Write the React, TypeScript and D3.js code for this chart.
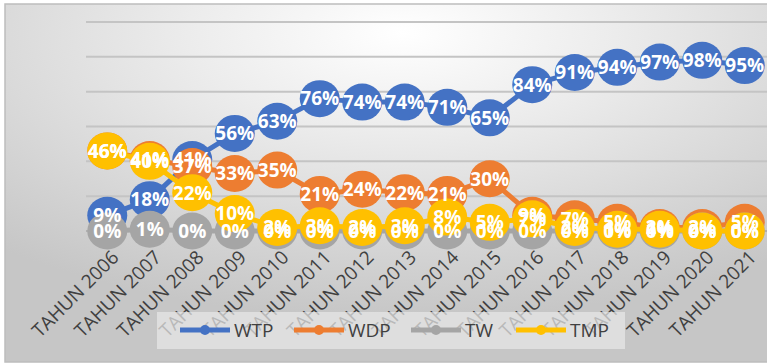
import React from 'react';
import * as d3 from 'd3';

const categories = [
  'TAHUN 2006', 'TAHUN 2007', 'TAHUN 2008', 'TAHUN 2009', 'TAHUN 2010', 'TAHUN 2011',
  'TAHUN 2012', 'TAHUN 2013', 'TAHUN 2014', 'TAHUN 2015', 'TAHUN 2016', 'TAHUN 2017',
  'TAHUN 2018', 'TAHUN 2019', 'TAHUN 2020', 'TAHUN 2021',
];
const wtp = [9, 18, 41, 56, 63, 76, 74, 74, 71, 65, 84, 91, 94, 97, 98, 95];
const wdp = [46, 41, 37, 33, 35, 21, 24, 22, 21, 30, 9, 7, 5, 2, 2, 5];
const tw = [0, 1, 0, 0, 0, 0, 0, 0, 0, 0, 0, 0, 0, 0, 0, 0];
const tmp = [46, 40, 22, 10, 2, 3, 2, 3, 8, 5, 7, 2, 1, 1, 0, 0];
const seriesNames = ['WTP', 'WDP', 'TW', 'TMP'];
const yTicks = [0, 20, 40, 60, 80, 100, 120];

const seriesValues = [wtp, wdp, tw, tmp];
const colors = ['#4472C4', '#ED7D31', '#A5A5A5', '#FFC000'];

const FONT = "'Open Sans', 'Liberation Sans', Arial, sans-serif";

export default function App() {
  const W = 767;
  const H = 364;
  const x = d3.scaleBand<string>().domain(categories).range([86, 766]).padding(0);
  const y = d3.scaleLinear().domain([0, 120]).range([231, 22]);
  const cx = (c: string) => (x(c) as number) + x.bandwidth() / 2;
  const line = d3
    .line<number>()
    .x((_, i) => cx(categories[i]))
    .y((d) => y(d));

  const legendX = [180, 294, 411, 516];

  return (
    <svg
      width={W}
      height={H}
      style={{ position: 'absolute', left: 0, top: 0 }}
      xmlns="http://www.w3.org/2000/svg"
    >
      <defs>
        <radialGradient id="bg" cx="52%" cy="8%" r="80%" fx="52%" fy="8%">
          <stop offset="0%" stopColor="#ffffff" />
          <stop offset="35%" stopColor="#ececec" />
          <stop offset="100%" stopColor="#c6c6c6" />
        </radialGradient>
      </defs>
      <rect x={0} y={0} width={W} height={H} fill="#ffffff" />
      <rect x={5} y={4} width={W - 4} height={358} fill="url(#bg)" stroke="#bdbdbd" strokeWidth={1.5} />

      {/* gridlines */}
      {yTicks.filter((t) => t > 0).map((t) => (
        <line key={t} x1={86} x2={W} y1={y(t)} y2={y(t)} stroke="#c4c4c4" strokeWidth={2} />
      ))}
      <line x1={86} x2={W} y1={y(0)} y2={y(0)} stroke="#a6a6a6" strokeWidth={1.5} />

      {/* x labels */}
      {categories.map((c) => (
        <text
          key={c}
          transform={`translate(${cx(c) + 3},${249}) rotate(-45)`}
          textAnchor="end"
          dy="0.72em"
          fontFamily={FONT}
          fontSize={19}
          fill="#404040"
        >
          {c}
        </text>
      ))}

      {/* series lines and markers */}
      {seriesValues.map((vals, si) => (
        <g key={seriesNames[si]}>
          <path d={line(vals) || ''} fill="none" stroke={colors[si]} strokeWidth={5} strokeLinejoin="round" />
          {vals.map((v, i) => (
            <ellipse key={i} cx={cx(categories[i])} cy={y(v)} rx={20} ry={18.5} fill={colors[si]} />
          ))}
        </g>
      ))}

      {/* data labels */}
      {seriesValues.map((vals, si) => (
        <g key={'l' + seriesNames[si]}>
          {vals.map((v, i) => (
            <text
              key={i}
              x={cx(categories[i])}
              y={y(v)}
              dy="0.36em"
              textAnchor="middle"
              fontFamily={FONT}
              fontWeight="bold"
              fontSize={19}
              fill="#ffffff"
            >
              {v}%
            </text>
          ))}
        </g>
      ))}

      {/* legend */}
      <rect x={157} y={312} width={468} height={37} fill="#e8e8e8" fillOpacity={0.72} />
      {seriesNames.map((n, i) => (
        <g key={n} transform={`translate(${legendX[i]},330)`}>
          <line x1={0} x2={50} y1={0} y2={0} stroke={colors[i]} strokeWidth={5} />
          <circle cx={25} cy={0} r={5} fill={colors[i]} />
          <text
            x={54}
            y={0}
            dy="0.36em"
            fontFamily={FONT}
            fontSize={19}
            fill="#404040"
          >
            {n}
          </text>
        </g>
      ))}
    </svg>
  );
}
